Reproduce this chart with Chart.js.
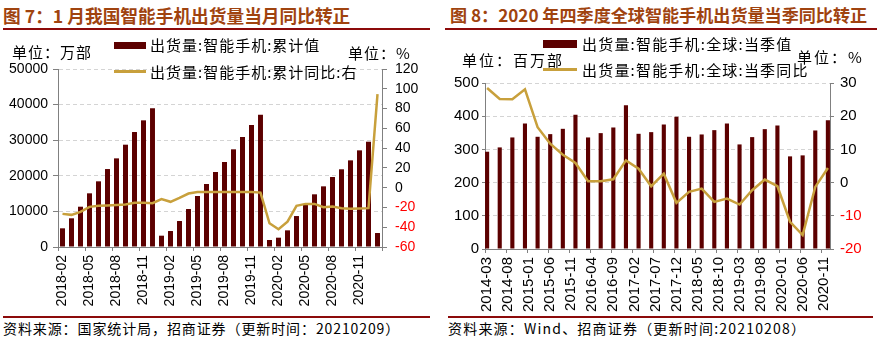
<!DOCTYPE html>
<html>
<head>
<meta charset="utf-8">
<script src="https://cdn.jsdelivr.net/npm/chart.js@4.4.1/dist/chart.umd.min.js"></script>
<style>
  body { margin: 0; background: #fff; width: 877px; height: 340px; overflow: hidden; position: relative;
         font-family: "Noto Sans CJK SC", sans-serif; color: #000; }
  .abs { position: absolute; white-space: nowrap; }
  .title { font-weight: bold; font-size: 17.7px; line-height: 22px; color: #a0430f; top: 4px; }
  .rule { height: 2px; background: #8c0a0a; }
  .leg { font-size: 15px; line-height: 18px; letter-spacing: 1px; }
  .src { font-size: 14px; line-height: 18px; letter-spacing: 0.9px; top: 319px; }
  .sw-bar { background: #5c0000; }
  .sw-line { background: #c8a03c; }
  canvas { position: absolute; top: 0; }
</style>
</head>
<body>

<!-- 图7 -->
<div class="abs title" style="left:3px;">图 7：1 月我国智能手机出货量当月同比转正</div>
<div class="abs rule" style="left:3px;top:28px;width:427px;"></div>
<canvas id="chartA" width="440" height="315" style="left:0;"></canvas>
<div class="abs sw-bar" style="left:114px;top:42px;width:32px;height:7px;"></div>
<div class="abs leg" style="left:150px;top:36px;">出货量:智能手机:累计值</div>
<div class="abs sw-line" style="left:114px;top:70px;width:32px;height:3px;"></div>
<div class="abs leg" style="left:150px;top:63px;">出货量:智能手机:累计同比:右</div>
<div class="abs leg" style="left:12px;top:43px;">单位：万部</div>
<div class="abs leg" style="left:348px;top:44px;">单位：%</div>
<div class="abs rule" style="left:3px;top:316px;width:427px;"></div>
<div class="abs src" style="left:3px;">资料来源：国家统计局，招商证券（更新时间：20210209）</div>

<!-- 图8 -->
<div class="abs title" style="left:450px;font-size:17.1px;">图 8：2020 年四季度全球智能手机出货量当季同比转正</div>
<div class="abs rule" style="left:445px;top:28px;width:432px;"></div>
<canvas id="chartB" width="437" height="315" style="left:440px;"></canvas>
<div class="abs sw-bar" style="left:543px;top:40px;width:34px;height:8px;"></div>
<div class="abs leg" style="left:582px;top:35px;letter-spacing:1.2px;">出货量:智能手机:全球:当季值</div>
<div class="abs sw-line" style="left:543px;top:68px;width:34px;height:3px;"></div>
<div class="abs leg" style="left:582px;top:61px;letter-spacing:1.2px;">出货量:智能手机:全球:当季同比</div>
<div class="abs leg" style="left:462px;top:51px;letter-spacing:2px;">单位：百万部</div>
<div class="abs leg" style="left:797px;top:48px;letter-spacing:2px;">单位：%</div>
<div class="abs rule" style="left:448px;top:316px;width:425px;"></div>
<div class="abs src" style="left:448px;letter-spacing:1.2px;">资料来源：Wind、招商证券（更新时间:20210208）</div>

<script>
// ---- 图7: 中国智能手机出货量（月度累计）----
const monthsA = [
  '2018-02','2018-03','2018-04','2018-05','2018-06','2018-07','2018-08','2018-09','2018-10','2018-11','2018-12',
  '2019-01','2019-02','2019-03','2019-04','2019-05','2019-06','2019-07','2019-08','2019-09','2019-10','2019-11','2019-12',
  '2020-01','2020-02','2020-03','2020-04','2020-05','2020-06','2020-07','2020-08','2020-09','2020-10','2020-11','2020-12',
  '2021-01'
];
const shipCum = [
  5250, 8060, 11320, 15080, 18450, 21900, 24900, 28740, 32300, 35580, 39000,
  3180, 4490, 7300, 10670, 14330, 17700, 21070, 23880, 27440, 30900, 34270, 37170,
  1970, 2620, 4680, 8700, 11990, 14800, 17040, 19660, 21830, 24340, 27150, 29580,
  3930
];
const shipCumYoY = [
  -26.5, -27.5, -24.5, -19.4, -18.4, -18, -17.6, -17, -15.3, -15.3, -15.7,
  -11.6, -14.3, -10.3, -5.9, -4.5, -4.5, -4.5, -4.5, -4.5, -4.5, -4.5, -5,
  -36, -42, -34.3, -18.4, -16.4, -16.4, -19.7, -19, -20.7, -21.4, -21, -20.7,
  94.5
];
const tickLabelsA = ['2018-02','2018-05','2018-08','2018-11','2019-02','2019-05','2019-08','2019-11',
                     '2020-02','2020-05','2020-08','2020-11'];

// ---- 图8: 全球智能手机出货量（季度）----
const quartersB = [
  '2014-03','2014-06','2014-09','2014-12','2015-03','2015-06','2015-09','2015-12',
  '2016-03','2016-06','2016-09','2016-12','2017-03','2017-06','2017-09','2017-12',
  '2018-03','2018-06','2018-09','2018-12','2019-03','2019-06','2019-09','2019-12',
  '2020-03','2020-06','2020-09','2020-12'
];
const shipQ = [
  293, 306, 336, 378, 338, 346, 362, 404,
  336, 349, 366, 433, 347, 352, 375, 398,
  338, 345, 358, 378, 315, 337, 361, 372,
  279, 282, 357, 388
];
const shipQYoY = [
  28.5, 25.2, 25.1, 28.1, 16.7, 11.7, 8.4, 5.9,
  0.4, 0.4, 1, 6.7, 4.2, -1.1, 2.7, -6.1,
  -2.8, -1.8, -5.8, -4.8, -6.6, -2.3, 0.9, -1.1,
  -11.8, -15.8, -1.3, 4.4
];
const tickLabelsB = ['2014-03','2014-08','2015-01','2015-06','2015-11','2016-04','2016-09','2017-02',
                     '2017-07','2017-12','2018-05','2018-10','2019-03','2019-08','2020-01','2020-06','2020-11'];

const BAR = '#5c0000';
const LINE = '#c8a03c';
const AXIS = '#808080';
const NUM_FONT = 'Liberation Sans, Arial, sans-serif';

// month axis for the quarterly chart (date-like axis as in Excel)
function monthRange(from, to) {
  let [y, m] = from.split('-').map(Number);
  const out = [];
  for (;;) {
    const k = y + '-' + String(m).padStart(2, '0');
    out.push(k);
    if (k === to) break;
    m++;
    if (m > 12) { m = 1; y++; }
  }
  return out;
}
const axisB = monthRange(quartersB[0], quartersB[quartersB.length - 1]);
const onAxis = (vals) => axisB.map(k => {
  const i = quartersB.indexOf(k);
  return i < 0 ? null : vals[i];
});

function xAxis(labels, shown, lastTick, fontSize, height) {
  return {
    type: 'category',
    ticks: {
      autoSkip: false, maxRotation: 90, minRotation: 90, padding: 4,
      color: '#000', font: { family: NUM_FONT, size: fontSize },
      callback: (v, i) => shown.includes(labels[i]) ? labels[i] : '',
    },
    grid: {
      offset: true, drawOnChartArea: false, tickLength: 4,
      tickColor: ctx => {
        if (!ctx.tick) return lastTick ? AXIS : 'rgba(0,0,0,0)';
        return shown.includes(labels[ctx.index]) ? AXIS : 'rgba(0,0,0,0)';
      },
    },
    border: { color: AXIS },
    afterFit: s => { s.height = height; },
  };
}

function yAxis(pos, min, max, step, width, fontSize, tickLen, pad, onArea) {
  return {
    position: pos, min, max,
    ticks: {
      stepSize: step, padding: pad, autoSkip: false,
      font: { family: NUM_FONT, size: fontSize },
      color: ctx => ctx.tick && ctx.tick.value < 0 ? '#ff0000' : '#000',
      callback: v => String(v),
    },
    grid: {
      drawOnChartArea: onArea, color: '#d4d4d4', tickColor: AXIS, tickLength: tickLen,
    },
    border: { color: AXIS, dash: [4, 3] },
    afterFit: s => { s.width = width; },
  };
}

new Chart(document.getElementById('chartA'), {
  type: 'bar',
  data: {
    labels: monthsA,
    datasets: [
      { type: 'line', label: '出货量:智能手机:累计同比:右', data: shipCumYoY, yAxisID: 'y1',
        borderColor: LINE, borderWidth: 2.5, pointRadius: 0, tension: 0, order: 0 },
      { label: '出货量:智能手机:累计值', data: shipCum, yAxisID: 'y',
        backgroundColor: BAR, barPercentage: 0.55, categoryPercentage: 1, order: 1 },
    ],
  },
  options: {
    responsive: false, animation: false, devicePixelRatio: 1,
    layout: { padding: { top: 69, left: 0, right: 0, bottom: 0 } },
    plugins: { legend: { display: false }, tooltip: { enabled: false } },
    scales: {
      x: xAxis(monthsA, tickLabelsA, true, 14, 68),
      y: yAxis('left', 0, 50000, 10000, 58, 14, 5, 5, true),
      y1: yAxis('right', -60, 120, 20, 58, 14, 5, 8, false),
    },
  },
});

new Chart(document.getElementById('chartB'), {
  type: 'bar',
  data: {
    labels: axisB,
    datasets: [
      { type: 'line', label: '出货量:智能手机:全球:当季同比', data: onAxis(shipQYoY), yAxisID: 'y1',
        borderColor: LINE, borderWidth: 2.5, pointRadius: 0, tension: 0, spanGaps: true, order: 0 },
      { label: '出货量:智能手机:全球:当季值', data: onAxis(shipQ), yAxisID: 'y',
        backgroundColor: BAR, barPercentage: 0.98, categoryPercentage: 1, order: 1 },
    ],
  },
  options: {
    responsive: false, animation: false, devicePixelRatio: 1,
    layout: { padding: { top: 83, left: 0, right: 0, bottom: 0 } },
    plugins: { legend: { display: false }, tooltip: { enabled: false } },
    scales: {
      x: xAxis(axisB, tickLabelsB, false, 15, 66),
      y: yAxis('left', 0, 500, 100, 45, 15, 3, 3, true),
      y1: yAxis('right', -20, 30, 10, 47, 15, 4, 6, false),
    },
  },
});
</script>
</body>
</html>
